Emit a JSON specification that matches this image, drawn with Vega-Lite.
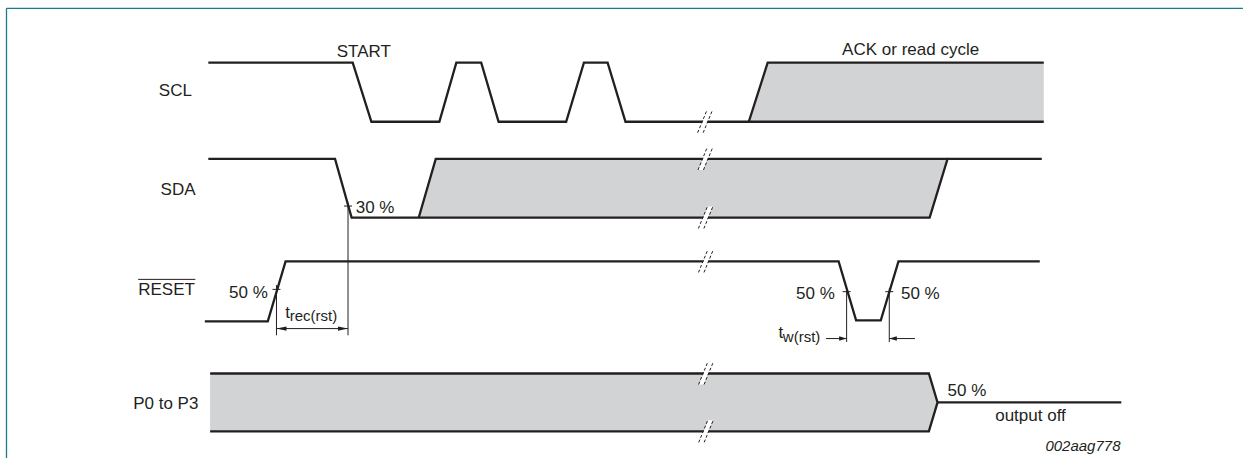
{
  "$schema": "https://vega.github.io/schema/vega-lite/v6.json",
  "width": 1244,
  "height": 459,
  "autosize": {"type": "fit", "contains": "padding"},
  "padding": 0,
  "background": "white",
  "config": {"view": {"stroke": null}},
  "datasets": {
    "frame": [
      {"x": 6.5, "y": 8.3, "x2": 1244, "y2": 8.3},
      {"x": 6.5, "y": 8.3, "x2": 6.5, "y2": 459}
    ],
    "fills": [
      {"shape": "scl", "x": 749.4, "y": 122, "y2": 122},
      {"shape": "scl", "x": 768.3, "y": 62.8, "y2": 122},
      {"shape": "scl", "x": 1044.6, "y": 62.8, "y2": 122},
      {"shape": "sda", "x": 419.1, "y": 218, "y2": 218},
      {"shape": "sda", "x": 436.1, "y": 159.3, "y2": 218},
      {"shape": "sda", "x": 930.4, "y": 159.3, "y2": 218},
      {"shape": "sda", "x": 948.3, "y": 159.3, "y2": 159.3},
      {"shape": "p0", "x": 210.3, "y": 374.3, "y2": 432.3},
      {"shape": "p0", "x": 929.6, "y": 374.3, "y2": 432.3},
      {"shape": "p0", "x": 938.3, "y": 403.3, "y2": 403.3}
    ],
    "waves": [
      {"s": "scl1", "i": 0, "x": 208.5, "y": 62.8},
      {"s": "scl1", "i": 1, "x": 353, "y": 62.8},
      {"s": "scl1", "i": 2, "x": 371.7, "y": 122},
      {"s": "scl1", "i": 3, "x": 439.7, "y": 122},
      {"s": "scl1", "i": 4, "x": 456.7, "y": 62.8},
      {"s": "scl1", "i": 5, "x": 481.6, "y": 62.8},
      {"s": "scl1", "i": 6, "x": 499, "y": 122},
      {"s": "scl1", "i": 7, "x": 566.6, "y": 122},
      {"s": "scl1", "i": 8, "x": 584.4, "y": 62.8},
      {"s": "scl1", "i": 9, "x": 608.1, "y": 62.8},
      {"s": "scl1", "i": 10, "x": 626, "y": 122},
      {"s": "scl1", "i": 11, "x": 1044.6, "y": 122},
      {"s": "scl2", "i": 0, "x": 749.4, "y": 122},
      {"s": "scl2", "i": 1, "x": 768.3, "y": 62.8},
      {"s": "scl2", "i": 2, "x": 1044.6, "y": 62.8},
      {"s": "sda1", "i": 0, "x": 208.5, "y": 159.3},
      {"s": "sda1", "i": 1, "x": 335.3, "y": 159.3},
      {"s": "sda1", "i": 2, "x": 351.9, "y": 218},
      {"s": "sda1", "i": 3, "x": 930.4, "y": 218},
      {"s": "sda1", "i": 4, "x": 948.3, "y": 159.3},
      {"s": "sda1", "i": 5, "x": 1042.6, "y": 159.3},
      {"s": "sda2", "i": 0, "x": 419.1, "y": 218},
      {"s": "sda2", "i": 1, "x": 436.1, "y": 159.3},
      {"s": "sda2", "i": 2, "x": 948.3, "y": 159.3},
      {"s": "rst", "i": 0, "x": 205, "y": 322},
      {"s": "rst", "i": 1, "x": 268, "y": 322},
      {"s": "rst", "i": 2, "x": 285.8, "y": 262},
      {"s": "rst", "i": 3, "x": 839.3, "y": 262},
      {"s": "rst", "i": 4, "x": 856.8, "y": 321},
      {"s": "rst", "i": 5, "x": 881.5, "y": 321},
      {"s": "rst", "i": 6, "x": 899.2, "y": 262},
      {"s": "rst", "i": 7, "x": 1040.6, "y": 262},
      {"s": "p0a", "i": 0, "x": 210.3, "y": 374.3},
      {"s": "p0a", "i": 1, "x": 929.6, "y": 374.3},
      {"s": "p0a", "i": 2, "x": 938.3, "y": 403.3},
      {"s": "p0a", "i": 3, "x": 929.6, "y": 432.3},
      {"s": "p0a", "i": 4, "x": 210.3, "y": 432.3},
      {"s": "p0b", "i": 0, "x": 938.3, "y": 403.3},
      {"s": "p0b", "i": 1, "x": 1122.2, "y": 403.3}
    ],
    "breaks": [
      {"x": 705.5, "y": 122},
      {"x": 705.8, "y": 159.3},
      {"x": 706.2, "y": 218},
      {"x": 706.3, "y": 262},
      {"x": 706.4, "y": 374.3},
      {"x": 706.5, "y": 432.3}
    ],
    "rules": [
      {"x": 348.3, "y": 203, "x2": 348.3, "y2": 336},
      {"x": 344.3, "y": 206.5, "x2": 352.3, "y2": 206.5},
      {"x": 276.7, "y": 285.7, "x2": 276.7, "y2": 336},
      {"x": 272.7, "y": 290, "x2": 280.7, "y2": 290},
      {"x": 276.7, "y": 329.3, "x2": 348.3, "y2": 329.3},
      {"x": 847.3, "y": 289, "x2": 847.3, "y2": 342.7},
      {"x": 843.3, "y": 292.3, "x2": 851.3, "y2": 292.3},
      {"x": 890, "y": 289, "x2": 890, "y2": 342.7},
      {"x": 886, "y": 292.3, "x2": 894, "y2": 292.3},
      {"x": 826.7, "y": 339.3, "x2": 847.3, "y2": 339.3},
      {"x": 890, "y": 339.3, "x2": 915.7, "y2": 339.3},
      {"x": 138.3, "y": 280, "x2": 195.5, "y2": 280}
    ],
    "heads": [
      {"x": 276.7, "y": 329.3, "kind": "rec-left"},
      {"x": 348.3, "y": 329.3, "kind": "rec-right"},
      {"x": 847.3, "y": 339.3, "kind": "w-right"},
      {"x": 890, "y": 339.3, "kind": "w-left"}
    ],
    "labels": [
      {"text": "SCL", "x": 159, "y": 96.2},
      {"text": "SDA", "x": 160.7, "y": 195},
      {"text": "RESET", "x": 138.3, "y": 296},
      {"text": "P0 to P3", "x": 133.3, "y": 409.5},
      {"text": "START", "x": 337, "y": 57.4},
      {"text": "ACK or read cycle", "x": 842.8, "y": 55.5},
      {"text": "30 %", "x": 356, "y": 213.3},
      {"text": "50 %", "x": 229.3, "y": 298.5},
      {"text": "50 %", "x": 796.7, "y": 299.3},
      {"text": "50 %", "x": 901.7, "y": 299.3},
      {"text": "50 %", "x": 948.3, "y": 396.7},
      {"text": "output off", "x": 996, "y": 422.3},
      {"text": "t", "x": 285.5, "y": 318.3},
      {"text": "t", "x": 779.1, "y": 338.3}
    ],
    "subs": [
      {"text": "rec(rst)", "x": 290, "y": 321.5},
      {"text": "w(rst)", "x": 783.5, "y": 342.5}
    ],
    "ident": [
      {"text": "002aag778", "x": 1121.4, "y": 451.7}
    ]
  },
  "encoding": {
    "x": {"field": "x", "type": "quantitative", "scale": {"domain": [0, 1244], "nice": false, "zero": false}, "axis": null},
    "y": {"field": "y", "type": "quantitative", "scale": {"domain": [0, 459], "nice": false, "zero": false, "reverse": true}, "axis": null}
  },
  "layer": [
    {
      "data": {"name": "frame"},
      "mark": {"type": "rule", "color": "#1a7b8f", "strokeWidth": 1.3},
      "encoding": {"x2": {"field": "x2"}, "y2": {"field": "y2"}}
    },
    {
      "data": {"name": "fills"},
      "mark": {"type": "area", "color": "#d1d3d4", "opacity": 1},
      "encoding": {"y2": {"field": "y2"}, "detail": {"field": "shape"}}
    },
    {
      "data": {"name": "waves"},
      "mark": {"type": "line", "color": "#231f20", "strokeWidth": 2.3},
      "encoding": {"detail": {"field": "s"}, "order": {"field": "i", "type": "quantitative"}}
    },
    {
      "data": {"name": "breaks"},
      "mark": {"type": "point", "shape": "M-0.62,1L0.2,-1L0.62,-1L-0.2,1Z", "size": 484, "filled": true, "color": "white", "opacity": 1, "strokeWidth": 0}
    },
    {
      "data": {"name": "breaks"},
      "mark": {"type": "point", "shape": "M-0.66,1L0.16,-1M-0.16,1L0.66,-1", "size": 484, "filled": false, "color": "#231f20", "opacity": 1, "strokeWidth": 1, "strokeDash": [3, 2]}
    },
    {
      "data": {"name": "rules"},
      "mark": {"type": "rule", "color": "#231f20", "strokeWidth": 1},
      "encoding": {"x2": {"field": "x2"}, "y2": {"field": "y2"}}
    },
    {
      "data": {"name": "heads"},
      "mark": {"type": "point", "size": 400, "filled": true, "color": "#231f20", "opacity": 1, "strokeWidth": 0},
      "encoding": {
        "shape": {
          "field": "kind",
          "type": "nominal",
          "scale": {
            "domain": ["rec-left", "rec-right", "w-left", "w-right"],
            "range": ["M0,0L1,-0.22L1,0.22Z", "M0,0L-1,-0.22L-1,0.22Z", "M0,0L0.75,-0.22L0.75,0.22Z", "M0,0L-0.75,-0.22L-0.75,0.22Z"]
          },
          "legend": null
        }
      }
    },
    {
      "data": {"name": "labels"},
      "mark": {"type": "text", "font": "Liberation Sans", "fontSize": 17, "color": "#231f20", "align": "left", "baseline": "alphabetic"},
      "encoding": {"text": {"field": "text"}}
    },
    {
      "data": {"name": "subs"},
      "mark": {"type": "text", "font": "Liberation Sans", "fontSize": 15, "color": "#231f20", "align": "left", "baseline": "alphabetic"},
      "encoding": {"text": {"field": "text"}}
    },
    {
      "data": {"name": "ident"},
      "mark": {"type": "text", "font": "Liberation Sans", "fontSize": 15, "fontStyle": "italic", "color": "#231f20", "align": "right", "baseline": "alphabetic"},
      "encoding": {"text": {"field": "text"}}
    }
  ]
}
